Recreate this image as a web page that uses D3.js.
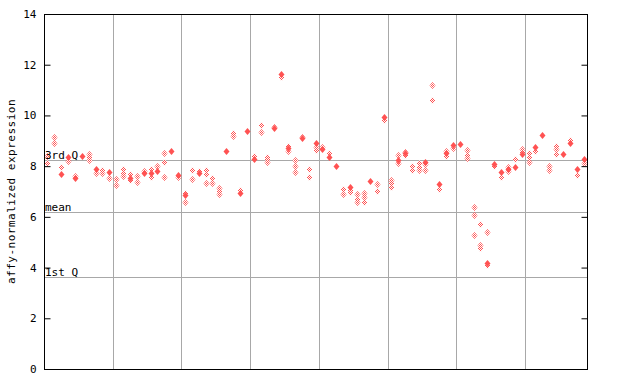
<!DOCTYPE html>
<html>
<head>
<meta charset="utf-8">
<script src="https://cdn.jsdelivr.net/npm/d3@7"></script>
<style>
  html, body { margin: 0; padding: 0; background: #fff; }
  svg { display: block; }
</style>
</head>
<body>
<svg id="chart" width="640" height="384"></svg>
<script>
// ---- data ----
const sampleCount = 79;
const yTicks = [0, 2, 4, 6, 8, 10, 12, 14];
const yLabel = "affy-normalized expression";
const statLabels = ["3rd Q", "mean", "1st Q"];
const statValues = [8.24, 6.21, 3.61];

// per point: sample index, value, filled (1) or checkered (0)
const pointSample = [
  0,0, 1,1, 2,2, 3,3, 4,4, 5, 6,6,6, 7,7, 8,8, 9,9,
  10,10, 11,11,11, 12,12,12, 13,13, 14,14, 15,15,15, 16,16, 17,17,17, 18, 19,19,
  20,20,20, 21,21, 22,22, 23,23,23, 24,24, 25,25,25, 26, 27,27, 28,28, 29,
  30,30, 31,31, 32,32,32, 33,33, 34,34, 35,35,35, 36,36,36, 37,37, 38,38, 39,39,39,
  40,40, 41,41, 42, 43,43, 44,44,44, 45,45,45, 46,46,46, 47, 48,48, 49,49,
  50,50,50, 51,51,51, 52,52,52, 53,53, 54,54,54, 55,55,55, 56,56, 57,57, 58,58,58, 59,59,
  60, 61,61,61, 62,62,62, 63,63,63, 64,64,64, 65,65, 66,66, 67,67,67, 68,68, 69,69,69,
  70,70,70, 71,71, 72, 73,73, 74,74,74, 75, 76,76, 77,77, 78,78
];
const pointValue = [
  8.40,8.12, 9.16,8.92, 7.98,7.68, 8.37,8.22, 7.60,7.54, 8.40, 8.47,8.35,8.24, 7.87,7.74, 7.85,7.72, 7.78,7.52,
  7.48,7.26, 7.87,7.74,7.63, 7.69,7.55,7.45, 7.61,7.36, 7.80,7.72, 7.88,7.74,7.58, 8.00,7.82, 8.50,8.15,7.56, 8.61, 7.64,7.58,
  6.95,6.86,6.57, 7.85,7.50, 7.80,7.74, 7.85,7.69,7.33, 7.52,7.32, 7.12,7.03,6.90, 8.61, 9.32,9.19, 7.05,6.93, 9.39,
  8.40,8.27, 9.62,9.36, 8.37,8.27,8.15, 9.55,9.49, 11.62,11.53, 8.79,8.70,8.61, 8.24,8.00,7.76, 9.15,9.12, 7.87,7.56, 8.90,8.77,8.63,
  8.74,8.68, 8.50,8.37, 8.00, 7.09,6.89, 7.19,7.06,6.97, 6.89,6.69,6.58, 6.95,6.80,6.59, 7.43, 7.28,7.02, 9.92,9.82,
  7.45,7.32,7.17, 8.44,8.24,8.14, 8.57,8.50,8.44, 8.00,7.85, 8.11,7.98,7.85, 8.18,8.07,7.84, 11.20,10.61, 7.28,7.09, 8.60,8.50,8.41, 8.83,8.73,
  8.87, 8.63,8.44,8.33, 6.38,6.07,5.28, 5.71,4.88,4.79, 5.39,4.19,4.10, 8.10,8.02, 7.76,7.59, 7.98,7.89,7.82, 8.27,7.98, 8.66,8.57,8.48,
  8.50,8.37,8.18, 8.74,8.61, 9.24, 8.02,7.85, 8.79,8.66,8.47, 8.48, 9.03,8.90, 7.90,7.65, 8.27,8.11
];
const pointFilled = [
  0,0, 0,0, 0,1, 1,0, 0,1, 1, 0,0,0, 1,0, 0,0, 1,0,
  0,0, 0,0,0, 0,1,0, 0,0, 0,1, 0,1,0, 0,1, 0,0,0, 1, 1,0,
  0,1,0, 0,0, 0,1, 0,0,0, 0,0, 0,0,0, 1, 0,0, 0,1, 1,
  0,1, 0,0, 0,0,0, 0,1, 1,0, 0,1,0, 0,0,0, 0,1, 0,0, 1,0,0,
  0,1, 0,1, 1, 0,0, 1,0,0, 0,0,0, 0,0,0, 1, 0,0, 1,0,
  0,0,0, 0,1,0, 0,1,0, 0,0, 0,0,0, 1,0,0, 0,0, 1,0, 0,1,0, 1,0,
  1, 0,0,0, 0,0,0, 0,0,0, 0,1,0, 1,0, 1,0, 0,1,0, 0,1, 0,0,1,
  0,0,0, 1,0, 1, 0,0, 0,0,0, 1, 0,1, 1,0, 1,0
];

// ---- layout ----
const plot = { left: 44, right: 587, top: 14, bottom: 369 };
const red = "#ff5252";
const gridColor = "#a8a8a8";

const svg = d3.select("#chart");
const x = d3.scaleLinear().domain([-0.5, sampleCount - 0.5]).range([plot.left, plot.right]);
const y = d3.scaleLinear().domain([0, 14]).range([plot.bottom, plot.top]);

const defs = svg.append("defs");
const pat = defs.append("pattern").attr("id", "chk")
  .attr("patternUnits", "userSpaceOnUse").attr("width", 2).attr("height", 2);
pat.append("rect").attr("width", 2).attr("height", 2).attr("fill", "#fff");
pat.append("rect").attr("x", 0).attr("y", 0).attr("width", 1).attr("height", 1).attr("fill", red);
pat.append("rect").attr("x", 1).attr("y", 1).attr("width", 1).attr("height", 1).attr("fill", red);

// vertical grid lines every 10 samples
const vGrid = d3.range(9.5, sampleCount - 1, 10);
svg.append("g").selectAll("line").data(vGrid).join("line")
  .attr("x1", d => Math.round(x(d)) + 0.5).attr("x2", d => Math.round(x(d)) + 0.5)
  .attr("y1", plot.top).attr("y2", plot.bottom)
  .attr("stroke", gridColor).attr("stroke-width", 1);

// stat lines
svg.append("g").selectAll("line").data(statValues).join("line")
  .attr("x1", plot.left).attr("x2", plot.right)
  .attr("y1", d => Math.round(y(d)) + 0.5).attr("y2", d => Math.round(y(d)) + 0.5)
  .attr("stroke", gridColor).attr("stroke-width", 1);

// points
const pts = d3.range(pointSample.length).map(i => ({
  s: pointSample[i], v: pointValue[i], f: pointFilled[i]
}));
pts.sort((a, b) => a.f - b.f);
const diamond = (cx, cy) => {
  const hx = 3, hy = 3.5;
  return `M${cx},${cy - hy}L${cx + hx},${cy}L${cx},${cy + hy}L${cx - hx},${cy}Z`;
};
svg.append("g").selectAll("path").data(pts).join("path")
  .attr("d", d => diamond(Math.round(x(d.s)) + 0.5, Math.round(y(d.v)) + 0.5))
  .attr("fill", d => d.f ? red : "url(#chk)")
  .attr("stroke", "none");

// frame
svg.append("rect")
  .attr("x", plot.left + 0.5).attr("y", plot.top + 0.5)
  .attr("width", plot.right - plot.left).attr("height", plot.bottom - plot.top)
  .attr("fill", "none").attr("stroke", "#000").attr("stroke-width", 1);

// axes
const fontFam = "'DejaVu Sans Mono', monospace";
const leftAxis = svg.append("g").attr("transform", `translate(${plot.left + 0.5},0)`)
  .call(d3.axisLeft(y).tickValues(yTicks).tickSize(-6).tickSizeOuter(0).tickPadding(8));
leftAxis.select(".domain").remove();
leftAxis.selectAll("text").attr("font-family", fontFam).attr("font-size", 11).attr("fill", "#000");
leftAxis.selectAll("line").attr("stroke", "#000");

const rightAxis = svg.append("g").attr("transform", `translate(${plot.right + 0.5},0)`)
  .call(d3.axisRight(y).tickValues(yTicks).tickSize(-6).tickSizeOuter(0).tickFormat(""));
rightAxis.select(".domain").remove();
rightAxis.selectAll("line").attr("stroke", "#000");

// stat labels
svg.append("g").selectAll("text").data(statValues).join("text")
  .attr("x", plot.left + 1).attr("y", d => Math.round(y(d)) - 1)
  .attr("font-family", fontFam).attr("font-size", 11).attr("fill", "#000")
  .text((d, i) => statLabels[i]);

// y label
svg.append("text")
  .attr("transform", `translate(15,${(plot.top + plot.bottom) / 2}) rotate(-90)`)
  .attr("text-anchor", "middle")
  .attr("font-family", fontFam).attr("font-size", 11).attr("letter-spacing", 0.5)
  .attr("fill", "#000")
  .text(yLabel);
</script>
</body>
</html>
